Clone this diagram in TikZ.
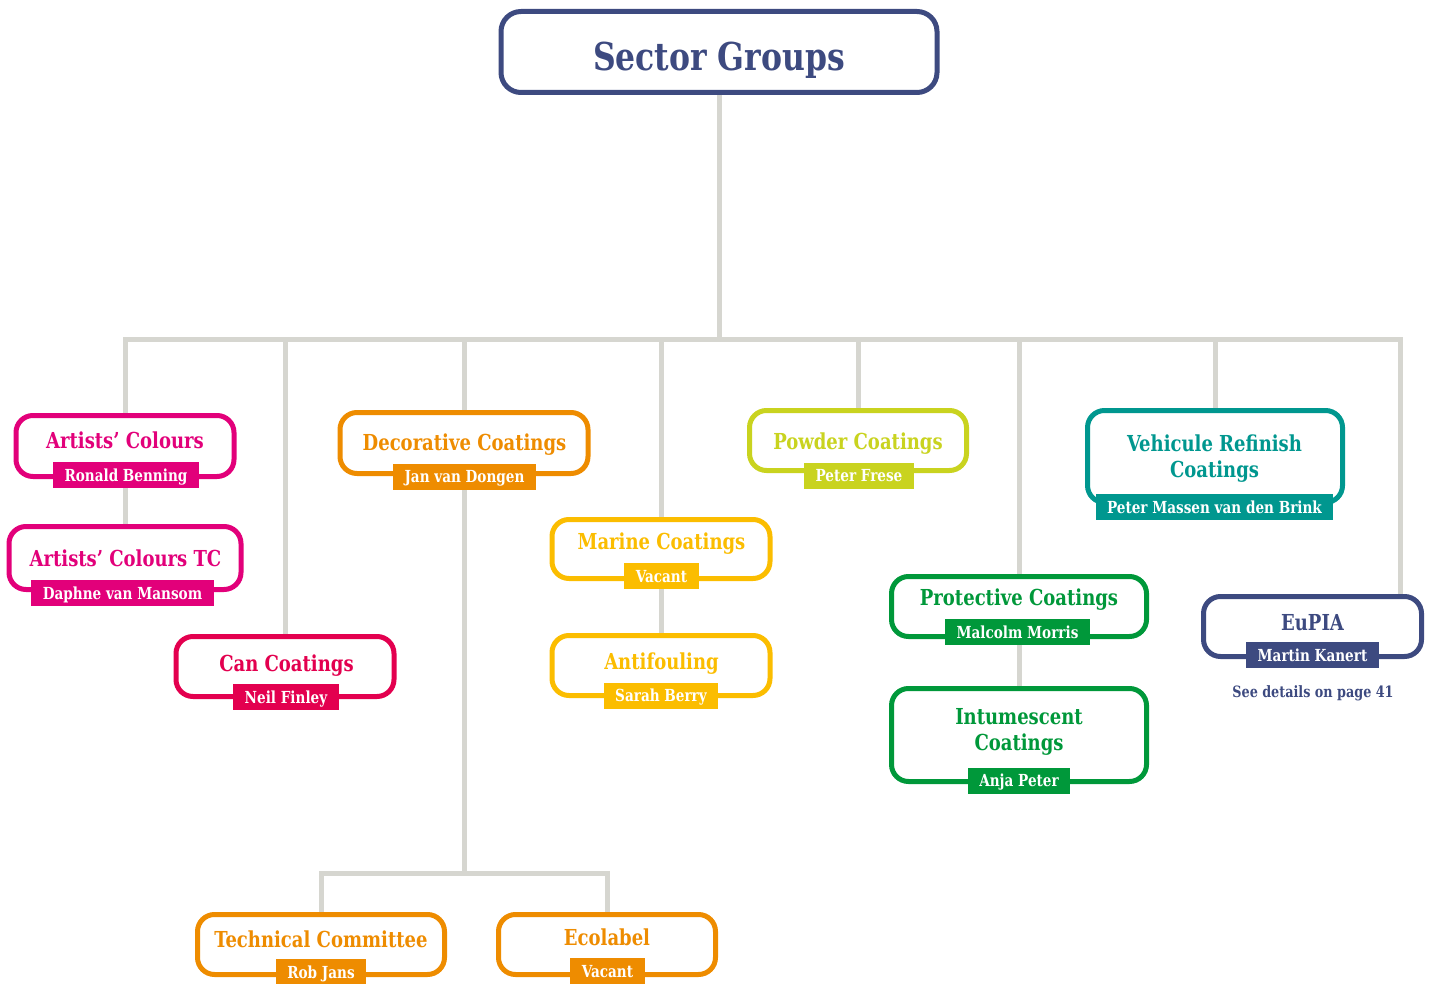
\documentclass[tikz,border=0pt]{standalone}
\usepackage{fontspec}
\setmainfont{DejaVu Serif Condensed}[FakeStretch=0.91]
\usetikzlibrary{backgrounds}
\definecolor{navy}{HTML}{3D4A80}
\definecolor{artist}{HTML}{E2007A}
\definecolor{can}{HTML}{E3004F}
\definecolor{deco}{HTML}{EE8C00}
\definecolor{marine}{HTML}{FBBD00}
\definecolor{powder}{HTML}{C9D31F}
\definecolor{protect}{HTML}{00983A}
\definecolor{vehicle}{HTML}{00978F}
\definecolor{linkgray}{HTML}{D6D6D0}
\tikzset{
  grp/.style={draw=#1,line width=2.5pt,rounded corners=8.5pt,fill=white,inner sep=0pt},
  ttl/.style={text=#1,anchor=base,align=center,font=\bfseries\fontsize{11}{13}\selectfont},
  tag/.style={fill=#1,text=white,font=\bfseries\fontsize{8.3}{10}\selectfont,inner xsep=5.75pt,
    inner ysep=0pt,text height=6pt,text depth=0pt,minimum height=13pt},
  link/.style={draw=linkgray,line width=2.5pt}
}

\begin{document}
\begin{tikzpicture}[x=0.5pt,y=-0.5pt]
\useasboundingbox (0,0) rectangle (1434,984);

\node[grp=navy,minimum width=218pt,minimum height=40.5pt,rounded corners=10pt] (sg) at (719,52) {};
\node[ttl=navy,font=\bfseries\fontsize{19.2}{24}\selectfont] (sg-t) at (719,71) {Sector Groups};

\node[grp=artist,minimum width=109pt,minimum height=30.5pt] (ac) at (125,446) {};
\node[ttl=artist] (ac-t) at (125,448) {Artists’ Colours};
\node[tag=artist] (ac-n) at (126,475) {Ronald Benning};

\node[grp=artist,minimum width=116pt,minimum height=31.5pt] (actc) at (125,558) {};
\node[ttl=artist] (actc-t) at (125.5,566) {Artists’ Colours TC};
\node[tag=artist] (actc-n) at (122.5,593) {Daphne van Mansom};

\node[grp=can,minimum width=109pt,minimum height=30pt] (can) at (285,666.5) {};
\node[ttl=can] (can-t) at (286.5,671) {Can Coatings};
\node[tag=can] (can-n) at (286,697) {Neil Finley};

\node[grp=deco,minimum width=124pt,minimum height=30.5pt] (dec) at (464,443) {};
\node[ttl=deco] (dec-t) at (464.5,450) {Decorative Coatings};
\node[tag=deco] (dec-n) at (464.5,476.5) {Jan van Dongen};

\node[grp=deco,minimum width=123.5pt,minimum height=30pt] (tech) at (321,944.5) {};
\node[ttl=deco] (tech-t) at (321,947) {Technical Committee};
\node[tag=deco] (tech-n) at (321,972) {Rob Jans};

\node[grp=deco,minimum width=108.5pt,minimum height=30pt] (eco) at (607,944.5) {};
\node[ttl=deco] (eco-t) at (607,945) {Ecolabel};
\node[tag=deco] (eco-n) at (607.5,971) {Vacant};

\node[grp=marine,minimum width=109pt,minimum height=29.5pt] (mar) at (661,549) {};
\node[ttl=marine] (mar-t) at (661.5,549) {Marine Coatings};
\node[tag=marine] (mar-n) at (661.5,576) {Vacant};

\node[grp=marine,minimum width=109pt,minimum height=30pt] (anti) at (661,665.5) {};
\node[ttl=marine] (anti-t) at (661.5,669) {Antifouling};
\node[tag=marine] (anti-n) at (661,695.5) {Sarah Berry};

\node[grp=powder,minimum width=108.5pt,minimum height=30pt] (pow) at (858,440.5) {};
\node[ttl=powder] (pow-t) at (858,449) {Powder Coatings};
\node[tag=powder] (pow-n) at (859,475.5) {Peter Frese};

\node[grp=protect,minimum width=127.5pt,minimum height=30pt] (prot) at (1019,606.5) {};
\node[ttl=protect] (prot-t) at (1019,605) {Protective Coatings};
\node[tag=protect] (prot-n) at (1017.5,632) {Malcolm Morris};

\node[grp=protect,minimum width=127.5pt,minimum height=46.5pt] (intu) at (1019,735) {};
\node[ttl=protect] (intu-t) at (1019,750) {Intumescent\\Coatings};
\node[tag=protect] (intu-n) at (1019,780.5) {Anja Peter};

\node[grp=vehicle,minimum width=127.5pt,minimum height=46pt] (veh) at (1215,456.5) {};
\node[ttl=vehicle] (veh-t) at (1214.5,477) {Vehicule Refinish\\Coatings};
\node[tag=vehicle] (veh-n) at (1214.5,507) {Peter Massen van den Brink};

\node[grp=navy,minimum width=109pt,minimum height=30pt] (eupia) at (1312.5,626.5) {};
\node[ttl=navy] (eupia-t) at (1312.5,630) {EuPIA};
\node[tag=navy] (eupia-n) at (1312.5,655) {Martin Kanert};
\node[text=navy,font=\bfseries\fontsize{7.8}{9}\selectfont,anchor=base] (eupia-p) at (1313,697) {See details on page 41};

\begin{scope}[on background layer]
\coordinate (bar) at (719,339);
\coordinate (dbar) at (464,873);
\draw[link] (sg) -- (bar);
\foreach \b in {ac,can,dec,mar,pow,prot,veh}
  \draw[link] (\b.north) |- (bar);
\draw[link] ([xshift=-12pt]eupia.north east) |- (bar);
\draw[link] (ac) -- (actc);
\draw[link] (mar) -- (anti);
\draw[link] (prot) -- (intu);
\draw[link] (dec) -- (dbar);
\draw[link] (tech.north) |- (dbar);
\draw[link] (eco.north) |- (dbar);
\end{scope}
\end{tikzpicture}
\end{document}
